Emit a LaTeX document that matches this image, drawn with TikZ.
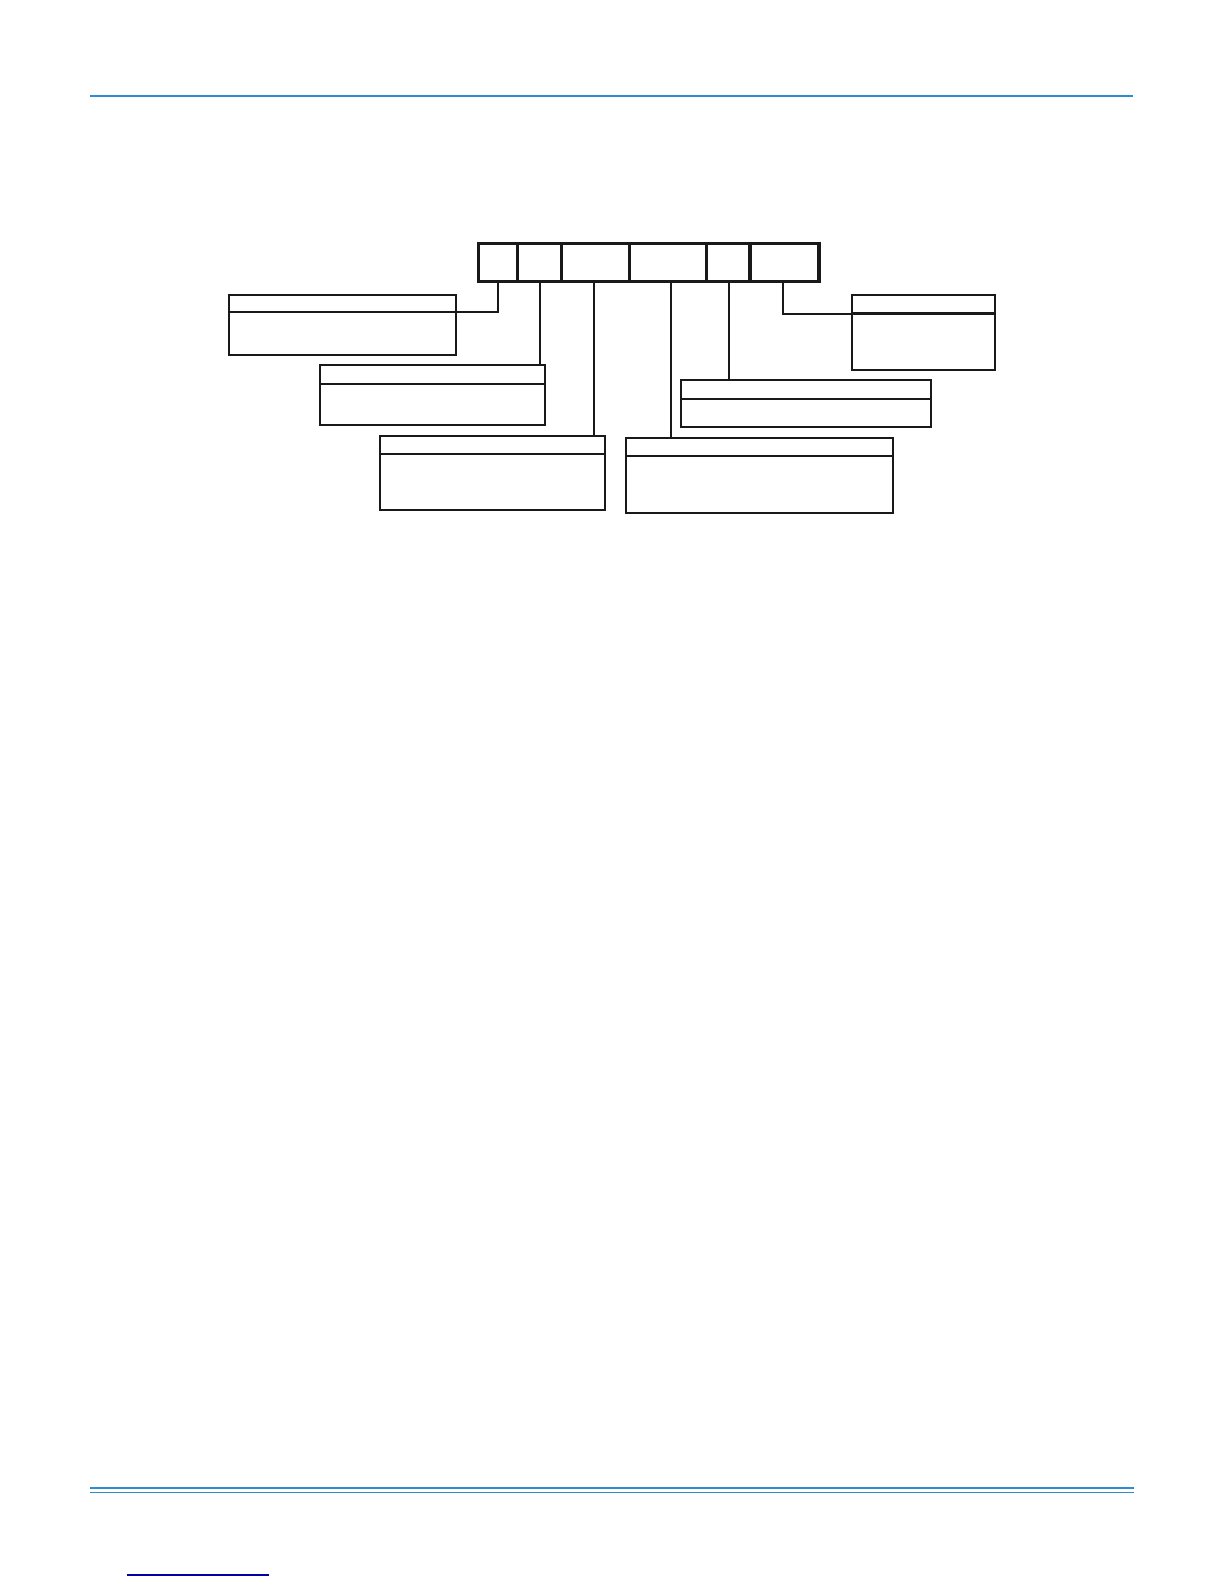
\documentclass[tikz,border=0pt]{standalone}
\usetikzlibrary{calc}
\definecolor{rule}{RGB}{45,140,208}
\definecolor{linkblue}{RGB}{0,0,165}
\tikzset{
  seg/.style={draw=black!90, line width=3.3pt, minimum height=38.3pt, inner sep=0pt, anchor=north west},
  infobox/.style={draw=black!90, line width=2pt, inner sep=0pt, anchor=north west},
  divider/.style={draw=black!90, line width=2pt},
  leader/.style={draw=black!90, line width=1.9pt},
}
\begin{document}
\begin{tikzpicture}[x=1pt,y=-1pt]
\useasboundingbox[fill=white] (0,0) rectangle (1224,1584);
% page rules
\draw[rule, line width=1.2pt] (90,96) -- (1133,96);
\draw[rule, line width=2.2pt] (90,1487.7) -- (1134,1487.7);
\draw[rule, line width=1.3pt] (90,1492.7) -- (1134,1492.7);
\draw[linkblue, line width=1.1pt] (127,1575) -- (269,1575);
% code segments
\node[seg, minimum width=39pt]   (s1) at (476.7,241.7) {};
\node[seg, minimum width=44.3pt] (s2) at (515.7,241.7) {};
\node[seg, minimum width=67.7pt] (s3) at (560,241.7) {};
\node[seg, minimum width=77.3pt] (s4) at (627.7,241.7) {};
\node[seg, minimum width=43.3pt] (s5) at (705,241.7) {};
\node[seg, minimum width=69pt]   (s6) at (748.3,241.7) {};
% description boxes
\node[infobox, minimum width=226.7pt, minimum height=60.3pt] (b1) at (228.3,294) {};
\node[infobox, minimum width=225pt,   minimum height=60.3pt] (b2) at (319,364) {};
\node[infobox, minimum width=225pt,   minimum height=74.3pt] (b3) at (379,435) {};
\node[infobox, minimum width=267.3pt, minimum height=75pt]   (b4) at (625,436.7) {};
\node[infobox, minimum width=250pt,   minimum height=46.7pt] (b5) at (680,379) {};
\node[infobox, minimum width=143.3pt, minimum height=75.3pt] (b6) at (850.7,294) {};
% dividers
\draw[divider] ($(b1.north west)+(0,18.3)$) -- ($(b1.north east)+(0,18.3)$);
\draw[divider] ($(b2.north west)+(0,19.7)$) -- ($(b2.north east)+(0,19.7)$);
\draw[divider] ($(b3.north west)+(0,19.3)$) -- ($(b3.north east)+(0,19.3)$);
\draw[divider] ($(b4.north west)+(0,19)$) -- ($(b4.north east)+(0,19)$);
\draw[divider] ($(b5.north west)+(0,20)$) -- ($(b5.north east)+(0,20)$);
\draw[divider, line width=3pt] ($(b6.north west)+(0,19.3)$) -- ($(b6.north east)+(0,19.3)$);
% leader start points
\coordinate (l1) at ($(s1.south)+(0.5,0)$);
\coordinate (l2) at ($(s2.south)+(0.4,0)$);
\coordinate (l3) at ($(s3.south)+(-1.6,0)$);
\coordinate (l4) at ($(s4.south)+(2.6,0)$);
\coordinate (l5) at ($(s5.south)+(1,0)$);
\coordinate (l6) at ($(s6.south)+(-1.8,0)$);
\coordinate (e1) at ($(b1.north east)+(0,18.3)$);
\coordinate (e6) at ($(b6.north west)+(0,20)$);
% leaders
\draw[leader] (l1) |- (e1);
\draw[leader] (l2) -- (l2 |- b2.north);
\draw[leader] (l3) -- (l3 |- b3.north);
\draw[leader] (l4) -- (l4 |- b4.north);
\draw[leader] (l5) -- (l5 |- b5.north);
\draw[leader] (l6) |- (e6);
\end{tikzpicture}
\end{document}
